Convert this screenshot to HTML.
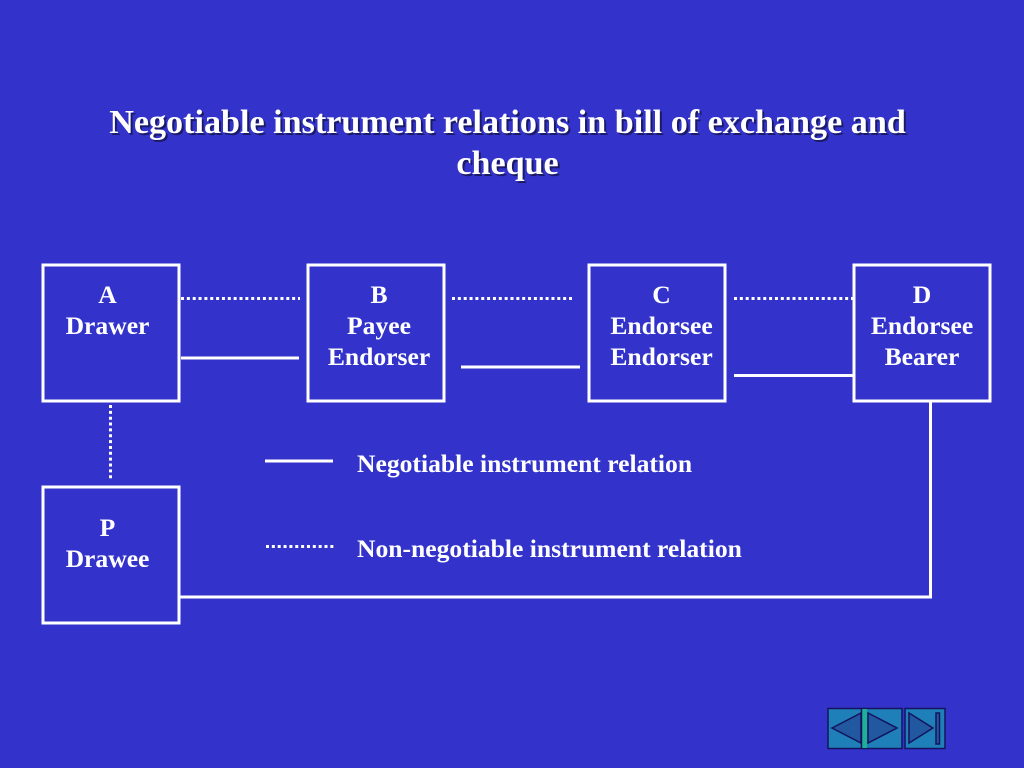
<!DOCTYPE html>
<html>
<head>
<meta charset="utf-8">
<style>
html,body{margin:0;padding:0;background:#3333cc}
svg{display:block}
text{font-family:"Liberation Serif",serif;font-weight:bold;fill:#fff}
.t{font-size:34.13px;text-anchor:middle}
.s{fill:#1a1a66;font-size:34.13px;text-anchor:middle}
.l{font-size:25.6px;text-anchor:middle}
.g{font-size:25.6px}
.b{fill:none;stroke:#fff;stroke-width:3}
.n{stroke:#fff;stroke-width:3;fill:none}
.d{stroke:#fff;stroke-width:3;fill:none;stroke-dasharray:3 2.85}
.nav{fill:#1f7fb8;stroke:#14145e;stroke-width:1.5}
.tri{fill:#22589f;stroke:#14145e;stroke-width:1.5}
</style>
</head>
<body>
<svg width="1024" height="768" viewBox="0 0 1024 768" xmlns="http://www.w3.org/2000/svg">
<rect width="1024" height="768" fill="#3333cc"/>
<text class="s" x="509.5" y="135">Negotiable instrument relations in bill of exchange and</text>
<text class="s" x="509.5" y="176">cheque</text>
<text class="t" x="507.5" y="133">Negotiable instrument relations in bill of exchange and</text>
<text class="t" x="507.5" y="174">cheque</text>

<rect class="b" x="43" y="265" width="136" height="136"/>
<rect class="b" x="308" y="265" width="136" height="136"/>
<rect class="b" x="589" y="265" width="136" height="136"/>
<rect class="b" x="854" y="265" width="136" height="136"/>
<rect class="b" x="43" y="487" width="136" height="136"/>

<text class="l" x="107.500" y="303">A</text>
<text class="l" x="107.500" y="334">Drawer</text>
<text class="l" x="379" y="303">B</text>
<text class="l" x="379" y="334">Payee</text>
<text class="l" x="379" y="365">Endorser</text>
<text class="l" x="661.500" y="303">C</text>
<text class="l" x="661.500" y="334">Endorsee</text>
<text class="l" x="661.500" y="365">Endorser</text>
<text class="l" x="922" y="303">D</text>
<text class="l" x="922" y="334">Endorsee</text>
<text class="l" x="922" y="365">Bearer</text>
<text class="l" x="107.500" y="536">P</text>
<text class="l" x="107.500" y="567">Drawee</text>

<path class="d" d="M181 298.500H300"/>
<path class="d" d="M452 298.500H572"/>
<path class="d" d="M734 298.500H854"/>
<path class="n" d="M181 358H299"/>
<path class="n" d="M461 367H580"/>
<path class="n" d="M734 375.500H853"/>
<path class="d" d="M110.500 405V479"/>
<path class="n" d="M930.500 402V598"/>
<path class="n" d="M180 597H932"/>

<path class="n" d="M265 461H333"/>
<path class="d" d="M266 546.500H334"/>
<text class="g" x="357" y="472">Negotiable instrument relation</text>
<text class="g" x="357" y="557">Non-negotiable instrument relation</text>

<rect class="nav" x="828" y="708.500" width="74" height="40"/>
<path class="tri" d="M832 728L861 713V743Z"/>
<path class="tri" d="M868 713L897 728L868 743Z"/>
<rect x="862" y="709" width="5" height="39" fill="#1fb09a"/>
<path d="M861.500 709V748" stroke="#14145e" stroke-width="1.500"/>
<rect class="nav" x="905" y="708.500" width="40" height="40"/>
<path class="tri" d="M909 713L933 728L909 743Z"/>
<rect class="tri" x="936" y="713" width="3.500" height="31"/>
</svg>
</body>
</html>
